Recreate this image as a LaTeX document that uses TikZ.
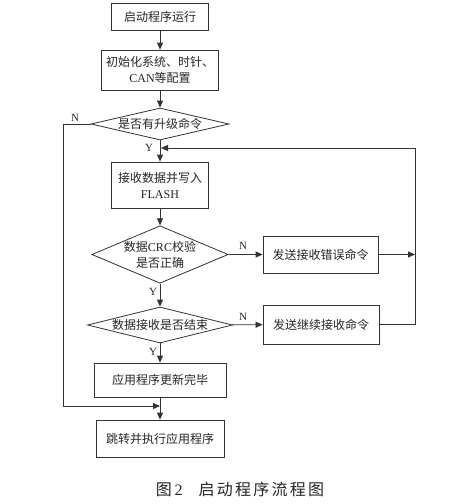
\documentclass[tikz,border=0pt]{standalone}
\usepackage{fontspec}
\setmainfont{Liberation Serif}
\newfontfamily\cjk{Noto Sans CJK SC}
\newfontfamily\cjkcap[LetterSpace=14]{Noto Sans CJK SC}
\usetikzlibrary{arrows.meta,shapes.geometric}
\begin{document}
\begin{tikzpicture}[x=1pt,y=-1pt,
  every node/.style={font=\fontsize{12}{16}\selectfont, text=black!85},
  box/.style={draw=black!80, line width=0.8pt, rectangle, inner sep=0pt, align=center},
  decis/.style={draw=black!80, line width=0.8pt, diamond, inner sep=0pt, align=center},
  conn/.style={draw=black!80, line width=0.8pt},
  arr/.style={conn, -{Triangle[length=7pt,width=6pt]}},
  yn/.style={font=\fontsize{11}{12}\selectfont, inner sep=0pt}]
\fill[white] (0,0) rectangle (449,504);
\useasboundingbox (0,0) rectangle (449,504);
% nodes
\node[box, minimum width=97, minimum height=27] (b1) at (160,16.5) {\cjk 启动程序运行};
\node[box, minimum width=117, minimum height=40] (b2) at (160,70) {{\cjk 初始化系统、时针、}\\CAN{\cjk 等配置}};
\node[decis, aspect=4.3, minimum width=138, minimum height=32] (d1) at (160,124) {\cjk 是否有升级命令};
\node[box, minimum width=97, minimum height=46] (b3) at (160,185) {{\cjk 接收数据并写入}\\FLASH};
\node[decis, aspect=2.37, minimum width=135, minimum height=57] (d2) at (160,254.5) {{\cjk 数据}CRC{\cjk 校验}\\{\cjk 是否正确}};
\node[box, minimum width=115, minimum height=37] (b4) at (320.5,254.5) {\cjk 发送接收错误命令};
\node[decis, aspect=4, minimum width=145, minimum height=36] (d3) at (160,325) {\cjk 数据接收是否结束};
\node[box, minimum width=116, minimum height=39] (b5) at (321,324.5) {\cjk 发送继续接收命令};
\node[box, minimum width=132, minimum height=34] (b6) at (160,380) {\cjk 应用程序更新完毕};
\node[box, minimum width=128, minimum height=37] (b7) at (160,438.5) {\cjk 跳转并执行应用程序};
% labels
\node[yn] (n1) at (75,118) {N};
\node[yn] (y1) at (149,148) {Y};
\node[yn] (n2) at (243,246) {N};
\node[yn] (y2) at (153,292) {Y};
\node[yn] (n3) at (243,317) {N};
\node[yn] (y3) at (153,352) {Y};
% coordinates
\coordinate (fr) at (415,148);
\coordinate (fj) at (161,148);
\coordinate (lt) at (63,124);
\coordinate (lb) at (63,406);
\coordinate (lj) at (160,406);
% connectors
\draw[arr] (b1) -- (b2);
\draw[arr] (b2) -- (d1);
\draw[arr] (d1) -- (b3);
\draw[arr] (b3) -- (d2);
\draw[arr] (d2) -- (d3);
\draw[arr] (d3) -- (b6);
\draw[arr] (b6) -- (b7);
\draw[arr] (d2) -- (b4);
\draw[arr] (d3) -- (b5);
\draw[arr] (b4.east) -- (b4.east -| fr);
\draw[conn] (b5.east) -- (b5.east -| fr) -- (fr);
\draw[arr] (fr) -- (fj);
\draw[conn] (d1.west) -- (lt) -- (lb);
\draw[arr] (lb) -- (lj);
% caption
\node (cap) at (240,489) {\fontsize{16}{18}\selectfont{\cjk 图}\,2\hspace{16pt}{\cjkcap 启动程序流程图}};
\end{tikzpicture}
\end{document}
